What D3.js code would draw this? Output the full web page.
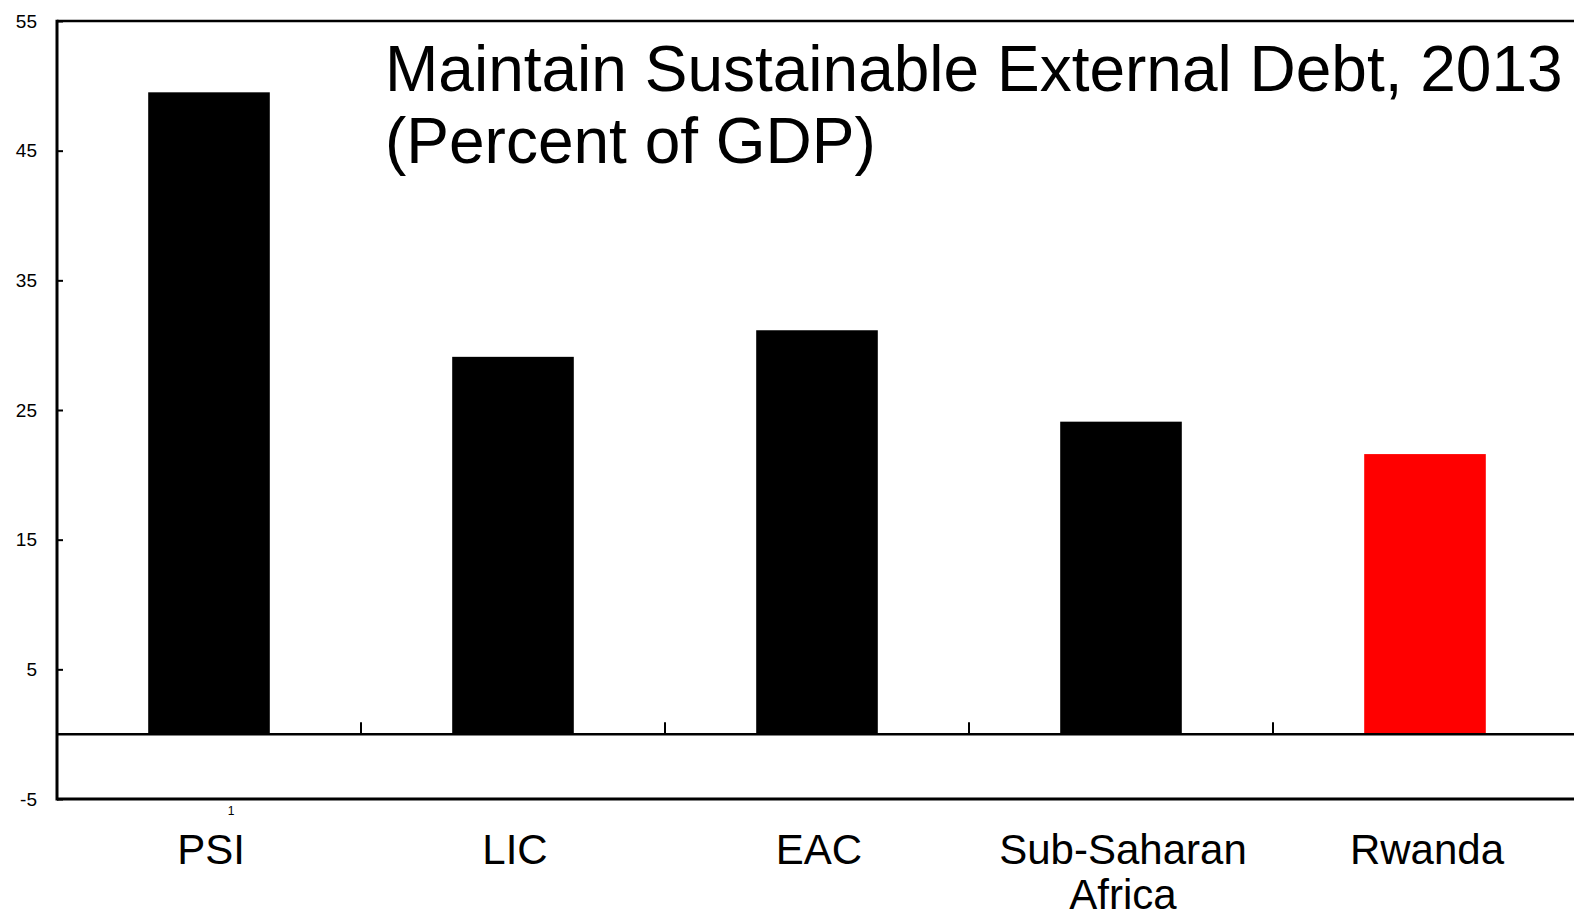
<!DOCTYPE html>
<html>
<head>
<meta charset="utf-8">
<script src="https://cdn.jsdelivr.net/npm/d3@7"></script>
<style>
  html, body { margin: 0; padding: 0; background: #fff; }
  svg { display: block; font-family: "Liberation Sans", Arial, sans-serif; }
</style>
</head>
<body>
<svg id="chart" width="1574" height="917"></svg>
<script>
// External debt, percent of GDP, 2013
const categories = ["PSI", "LIC", "EAC", "Sub-Saharan Africa", "Rwanda"];
const debtValues = [49.5, 29.1, 31.15, 24.1, 21.6];
const barColors = ["#000000", "#000000", "#000000", "#000000", "#ff0000"];
const yTickValues = [-5, 5, 15, 25, 35, 45, 55];
const footnoteMarks = ["1"];
const titleLines = ["Maintain Sustainable External Debt, 2013", "(Percent of GDP)"];

(function () {
  const svg = d3.select("#chart");
  const plotLeft = 57, plotRight = 1577, plotTop = 21, plotBottom = 799;

  const x = d3.scaleBand()
    .domain(categories)
    .range([plotLeft, plotRight])
    .paddingInner(0.6)
    .paddingOuter(0.3);

  const y = d3.scaleLinear()
    .domain([-5, 55])
    .range([plotBottom, plotTop]);

  // Bars
  svg.append("g")
    .selectAll("rect")
    .data(categories)
    .join("rect")
    .attr("x", d => x(d))
    .attr("width", x.bandwidth())
    .attr("y", (d, i) => y(Math.max(0, debtValues[i])))
    .attr("height", (d, i) => Math.abs(y(debtValues[i]) - y(0)))
    .attr("fill", (d, i) => barColors[i]);

  // Frame: top and bottom edges
  svg.append("line")
    .attr("x1", plotLeft).attr("x2", plotRight)
    .attr("y1", plotTop).attr("y2", plotTop)
    .attr("stroke", "#000").attr("stroke-width", 2.5);
  svg.append("line")
    .attr("x1", plotLeft).attr("x2", plotRight)
    .attr("y1", plotBottom).attr("y2", plotBottom)
    .attr("stroke", "#000").attr("stroke-width", 3);

  // Y axis with inward ticks; plain hyphen for negatives
  const yAxis = d3.axisLeft(y)
    .tickValues(yTickValues)
    .tickSize(-6)
    .tickPadding(20)
    .tickFormat(d => String(d));
  const yg = svg.append("g")
    .attr("transform", `translate(${plotLeft},0)`)
    .call(yAxis);
  yg.select(".domain").attr("stroke-width", 3).attr("d", `M0,${plotBottom + 1.5}V${plotTop - 1.2}`);
  yg.selectAll(".tick line").attr("stroke-width", 2);
  yg.selectAll(".tick text")
    .attr("font-size", 19)
    .attr("fill", "#000")
    .attr("font-family", "Liberation Sans, Arial, sans-serif");

  // Zero line with category dividers
  svg.append("line")
    .attr("x1", plotLeft).attr("x2", plotRight)
    .attr("y1", y(0)).attr("y2", y(0))
    .attr("stroke", "#000").attr("stroke-width", 2.5);

  const gap = (x.step() - x.bandwidth()) / 2;
  svg.append("g")
    .selectAll("line")
    .data(categories.slice(1))
    .join("line")
    .attr("x1", d => x(d) - gap)
    .attr("x2", d => x(d) - gap)
    .attr("y1", y(0))
    .attr("y2", y(0) - 12)
    .attr("stroke", "#000")
    .attr("stroke-width", 2);

  // Small series marker under the first category
  svg.append("g")
    .selectAll("text")
    .data(footnoteMarks)
    .join("text")
    .attr("x", (d, i) => x(categories[i]) + x.bandwidth() / 2 + 22)
    .attr("y", plotBottom + 16)
    .attr("text-anchor", "middle")
    .attr("font-size", 12)
    .attr("fill", "#000")
    .text(d => d);

  // Category labels (wrapped where the name is long)
  const wrapLines = d => d === "Sub-Saharan Africa" ? ["Sub-Saharan", "Africa"] : [d];
  svg.append("g")
    .selectAll("text")
    .data(categories)
    .join("text")
    .attr("x", d => x(d) + x.bandwidth() / 2 + 2)
    .attr("y", 864)
    .attr("text-anchor", "middle")
    .attr("font-size", 42)
    .attr("fill", "#000")
    .each(function (d) {
      const t = d3.select(this);
      wrapLines(d).forEach((line, k) => {
        t.append("tspan")
          .attr("x", x(d) + x.bandwidth() / 2 + 2)
          .attr("dy", k === 0 ? 0 : 45)
          .text(line);
      });
    });

  // Title
  svg.append("g")
    .selectAll("text")
    .data(titleLines)
    .join("text")
    .attr("x", 385)
    .attr("y", (d, i) => 91 + i * 72)
    .attr("font-size", 64)
    .attr("fill", "#000")
    .text(d => d);
})();
</script>
</body>
</html>
